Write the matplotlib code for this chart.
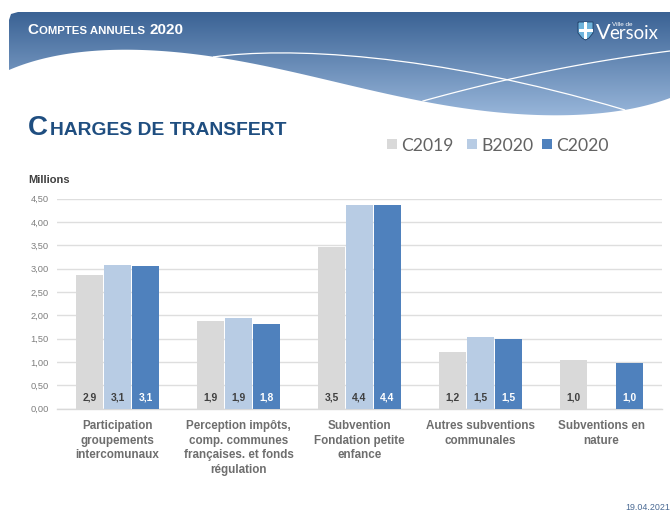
import numpy as np
import matplotlib
matplotlib.use('Agg')
from matplotlib import pyplot as plt
from matplotlib.path import Path
from matplotlib.patches import PathPatch, Rectangle

categories = ['Participation\ngroupements\nintercomunaux',
              'Perception impôts,\ncomp. communes\nfrançaises. et fonds\nrégulation',
              'Subvention\nFondation petite\nenfance',
              'Autres subventions\ncommunales',
              'Subventions en\nnature']
series_names = ['C2019', 'B2020', 'C2020']
c2019 = [2.87, 1.89, 3.47, 1.21, 1.04]
b2020 = [3.09, 1.94, 4.37, 1.54, None]
c2020 = [3.06, 1.82, 4.37, 1.50, 0.97]
yticks = [0, 0.5, 1, 1.5, 2, 2.5, 3, 3.5, 4, 4.5]
colors = ['#d9d9d9', '#b8cce4', '#4f81bd']
label_colors = ['#404040', '#404040', '#ffffff']

W, H = 670, 522
plt.rcParams['font.family'] = ['Liberation Sans', 'DejaVu Sans']
fig = plt.figure(figsize=(W / 100, H / 100), dpi=100)

# page layer in pixel coordinates, y going down
bg = fig.add_axes([0, 0, 1, 1])
bg.set_xlim(0, W)
bg.set_ylim(H, 0)
bg.axis('off')

# header band: gradient clipped by the wave
edge = [(670, 98), (625, 110), (560, 115), (500, 113), (423, 101), (335, 82), (215, 57), (165, 51), (120, 50), (60, 55), (9, 70)]
xs = np.array([p[0] for p in edge], float)
ys = np.array([p[1] for p in edge], float)
order = np.argsort(xs)
xx = np.linspace(9, 670, 200)
coef = np.polyfit(xs[order], ys[order], 7)
yy = np.polyval(coef, xx)
verts = [(9, 70), (9, 20), (11, 14), (18, 12), (670, 12)] + list(zip(xx[::-1], yy[::-1])) + [(9, 70)]
codes = [Path.MOVETO] + [Path.LINETO] * (len(verts) - 2) + [Path.CLOSEPOLY]
grad = np.linspace(0, 1, 256).reshape(-1, 1)
top = np.array([58, 98, 148]) / 255
bottom = np.array([152, 182, 218]) / 255
img = (top + (bottom - top) * grad)[:, None, :]
im = bg.imshow(img, extent=(0, W, 116, 12), aspect='auto', zorder=1)
im.set_clip_path(PathPatch(Path(verts, codes), transform=bg.transData))
bg.set_xlim(0, W)
bg.set_ylim(H, 0)

# white crossing lines in the band
line1 = Path([(213, 57), (285, 47), (430, 52), (625, 110)], [Path.MOVETO, Path.CURVE4, Path.CURVE4, Path.CURVE4])
bg.add_patch(PathPatch(line1, fc='none', ec='white', lw=0.9, zorder=2))
lx2 = np.linspace(423, 670, 60)
ly2 = np.polyval(np.polyfit([423, 506, 670], [101, 80, 51], 2), lx2)
bg.plot(lx2, ly2, color='white', lw=0.9, zorder=2)

# logo
shield = Path([(578, 22), (593, 22), (593, 33), (589, 38), (585.5, 40), (582, 38), (578, 33), (578, 22)])
bg.add_patch(PathPatch(shield, fc='#6fb4dc', ec='#1f3f66', lw=0.6, zorder=3))
bg.add_patch(Rectangle((584, 22), 3, 17, fc='white', ec='none', zorder=4))
bg.add_patch(Rectangle((578.5, 29), 14, 3, fc='white', ec='none', zorder=4))
bg.text(595.5, 39, 'V', color='white', fontsize=15.5, family=['Lato', 'DejaVu Sans'], va='baseline', zorder=4)
bg.text(609, 39, 'ersoix', color='white', fontsize=13.4, family=['Lato', 'DejaVu Sans'], va='baseline', zorder=4)
bg.text(612, 26, 'Ville de', color='white', fontsize=4.6, va='baseline', zorder=4)

# band and slide titles, small caps made of two sizes
bg.text(27, 33.5, 'C', color='white', fontsize=11, fontweight='bold', va='baseline', zorder=4)
bg.text(39, 33.5, 'OMPTES ANNUELS', color='white', fontsize=8.2, fontweight='bold', va='baseline', zorder=4)
bg.text(149, 33.5, '2020', color='white', fontsize=11, fontweight='bold', va='baseline', zorder=4)
bg.text(28, 135, 'C', color='#1f4e80', fontsize=20, fontweight='bold', va='baseline')
bg.text(50, 135, 'HARGES DE TRANSFERT', color='#1f4e80', fontsize=13.9, fontweight='bold', va='baseline')

# legend
for x0, xt, c, name in zip([387, 467, 542], [401.5, 481, 556.5], colors, series_names):
    bg.add_patch(Rectangle((x0, 139), 10, 10, fc=c, ec='none'))
    bg.text(xt, 151, name, color='#636363', fontsize=12.6, family=['Lato', 'DejaVu Sans'], va='baseline')

bg.text(28, 183, 'Millions', color='#404040', fontsize=8, fontweight='bold', va='baseline')
bg.text(670, 510, '19.04.2021', color='#4a6a94', fontsize=6.4, ha='right', va='baseline')

# chart
ax = fig.add_axes([57 / W, 1 - 408.7 / H, 605 / W, 210 / H])
ax.patch.set_alpha(0)
ax.set_xlim(-0.5, 4.5)
ax.set_ylim(0, 4.5)
pos = np.arange(len(categories))
step = 0.2314
for i, (vals, c, lc) in enumerate(zip([c2019, b2020, c2020], colors, label_colors)):
    for j, v in enumerate(vals):
        if v is None:
            continue
        ax.bar(pos[j] + (i - 1) * step, v, width=step * 0.965, color=c, zorder=3)
        ax.text(pos[j] + (i - 1) * step, 0.23, f'{v:.1f}'.replace('.', ','), color=lc,
                fontsize=7.4, fontweight='bold', ha='center', va='center', zorder=4)
ax.set_yticks(yticks)
ax.set_yticklabels([f'{t:.2f}'.replace('.', ',') for t in yticks], fontsize=6.7, color='#7f7f7f')
ax.set_xticks(pos)
ax.set_xticklabels(categories, fontsize=8.4, fontweight='bold', color='#6e6e6e', linespacing=1.3)
ax.tick_params(axis='both', length=0)
ax.tick_params(axis='y', pad=5.8)
ax.tick_params(axis='x', pad=8)
ax.grid(axis='y', color='#dedede', lw=1, zorder=0)
ax.set_axisbelow(True)
for s in ['top', 'right', 'left']:
    ax.spines[s].set_visible(False)
ax.spines['bottom'].set_color('#d9d9d9')
ax.spines['bottom'].set_linewidth(1)

fig.savefig('out.png', dpi=100)
